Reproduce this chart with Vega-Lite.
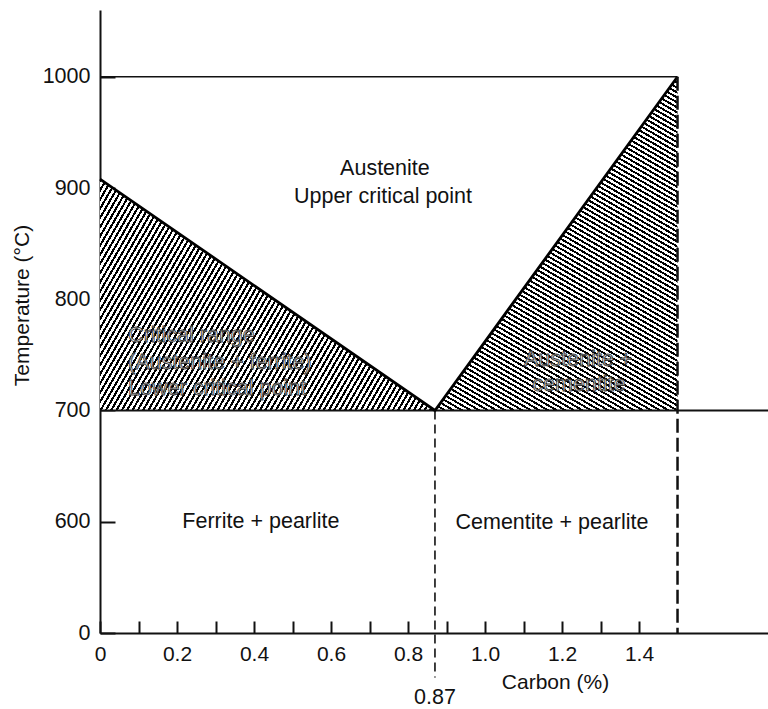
{
 "$schema": "https://vega.github.io/schema/vega-lite/v6.json",
 "width": 668,
 "height": 623,
 "autosize": {"type": "none"},
 "padding": {"left": 100, "top": 10, "right": 0, "bottom": 76},
 "background": "white",
 "config": {"view": {"stroke": null}, "font": "Liberation Sans"},
 "encoding": {
  "x": {"field": "c", "type": "quantitative",
   "scale": {"domain": [0, 1.735], "nice": false, "zero": false},
   "axis": {"values": [0,0.1,0.2,0.3,0.4,0.5,0.6,0.7,0.8,0.9,1.0,1.1,1.2,1.3,1.4],
    "labelExpr": "datum.value == 0 ? '0' : (round(datum.value*10) % 2 == 0 ? format(datum.value, '.1f') : '')",
    "grid": false, "tickSize": -12, "tickWidth": 2, "tickColor": "#111",
    "domainWidth": 2, "domainColor": "#111",
    "labelPadding": 22, "labelFontSize": 21, "labelColor": "#111", "labelFont": "Liberation Sans",
    "labelFlush": false, "labelOverlap": false, "labelBaseline": "top",
    "title": "Carbon (%)", "titleFont": "Liberation Sans", "titleFontSize": 21, "titleFontWeight": "normal", "titleColor": "#111",
    "titleX": 455, "titleY": 49, "titleBaseline": "middle", "titleAlign": "center"}},
  "y": {"field": "t", "type": "quantitative", "stack": null,
   "scale": {"domain": [500, 1060], "nice": false, "zero": false},
   "axis": {"values": [500,600,700,800,900,1000], "format": "d",
    "labelExpr": "datum.value == 500 ? '0' : datum.label",
    "grid": false, "tickSize": -15, "tickWidth": 2, "tickColor": "#111",
    "domainWidth": 2, "domainColor": "#111",
    "labelPadding": 25, "labelFontSize": 21.5, "labelColor": "#111", "labelFont": "Liberation Sans",
    "labelFlush": false, "labelOverlap": false,
    "title": "Temperature (°C)", "titleFont": "Liberation Sans", "titleFontSize": 21, "titleFontWeight": "normal", "titleColor": "#111",
    "titleX": -78, "titleY": 295, "titleBaseline": "middle", "titleAlign": "center", "titleAngle": -90}}
 },
 "layer": [
  {
   "data": {"values": [{"c": 0, "t": 908, "t2": 700}, {"c": 0.87, "t": 700, "t2": 700}]},
   "mark": {"type": "area", "stroke": null, "fill": {"gradient": "linear", "x1": 0, "y1": 0, "x2": 1.36817, "y2": 0.54572, "stops": [
{"offset":0,"color":"#000"},{"offset":0.0045,"color":"#000"},{"offset":0.0045,"color":"#fff"},{"offset":0.01,"color":"#fff"},
{"offset":0.01,"color":"#000"},{"offset":0.0145,"color":"#000"},{"offset":0.0145,"color":"#fff"},{"offset":0.02,"color":"#fff"},
{"offset":0.02,"color":"#000"},{"offset":0.0245,"color":"#000"},{"offset":0.0245,"color":"#fff"},{"offset":0.03,"color":"#fff"},
{"offset":0.03,"color":"#000"},{"offset":0.0345,"color":"#000"},{"offset":0.0345,"color":"#fff"},{"offset":0.04,"color":"#fff"},
{"offset":0.04,"color":"#000"},{"offset":0.0445,"color":"#000"},{"offset":0.0445,"color":"#fff"},{"offset":0.05,"color":"#fff"},
{"offset":0.05,"color":"#000"},{"offset":0.0545,"color":"#000"},{"offset":0.0545,"color":"#fff"},{"offset":0.06,"color":"#fff"},
{"offset":0.06,"color":"#000"},{"offset":0.0645,"color":"#000"},{"offset":0.0645,"color":"#fff"},{"offset":0.07,"color":"#fff"},
{"offset":0.07,"color":"#000"},{"offset":0.0745,"color":"#000"},{"offset":0.0745,"color":"#fff"},{"offset":0.08,"color":"#fff"},
{"offset":0.08,"color":"#000"},{"offset":0.0845,"color":"#000"},{"offset":0.0845,"color":"#fff"},{"offset":0.09,"color":"#fff"},
{"offset":0.09,"color":"#000"},{"offset":0.0945,"color":"#000"},{"offset":0.0945,"color":"#fff"},{"offset":0.10,"color":"#fff"},
{"offset":0.10,"color":"#000"},{"offset":0.1045,"color":"#000"},{"offset":0.1045,"color":"#fff"},{"offset":0.11,"color":"#fff"},
{"offset":0.11,"color":"#000"},{"offset":0.1145,"color":"#000"},{"offset":0.1145,"color":"#fff"},{"offset":0.12,"color":"#fff"},
{"offset":0.12,"color":"#000"},{"offset":0.1245,"color":"#000"},{"offset":0.1245,"color":"#fff"},{"offset":0.13,"color":"#fff"},
{"offset":0.13,"color":"#000"},{"offset":0.1345,"color":"#000"},{"offset":0.1345,"color":"#fff"},{"offset":0.14,"color":"#fff"},
{"offset":0.14,"color":"#000"},{"offset":0.1445,"color":"#000"},{"offset":0.1445,"color":"#fff"},{"offset":0.15,"color":"#fff"},
{"offset":0.15,"color":"#000"},{"offset":0.1545,"color":"#000"},{"offset":0.1545,"color":"#fff"},{"offset":0.16,"color":"#fff"},
{"offset":0.16,"color":"#000"},{"offset":0.1645,"color":"#000"},{"offset":0.1645,"color":"#fff"},{"offset":0.17,"color":"#fff"},
{"offset":0.17,"color":"#000"},{"offset":0.1745,"color":"#000"},{"offset":0.1745,"color":"#fff"},{"offset":0.18,"color":"#fff"},
{"offset":0.18,"color":"#000"},{"offset":0.1845,"color":"#000"},{"offset":0.1845,"color":"#fff"},{"offset":0.19,"color":"#fff"},
{"offset":0.19,"color":"#000"},{"offset":0.1945,"color":"#000"},{"offset":0.1945,"color":"#fff"},{"offset":0.20,"color":"#fff"},
{"offset":0.20,"color":"#000"},{"offset":0.2045,"color":"#000"},{"offset":0.2045,"color":"#fff"},{"offset":0.21,"color":"#fff"},
{"offset":0.21,"color":"#000"},{"offset":0.2145,"color":"#000"},{"offset":0.2145,"color":"#fff"},{"offset":0.22,"color":"#fff"},
{"offset":0.22,"color":"#000"},{"offset":0.2245,"color":"#000"},{"offset":0.2245,"color":"#fff"},{"offset":0.23,"color":"#fff"},
{"offset":0.23,"color":"#000"},{"offset":0.2345,"color":"#000"},{"offset":0.2345,"color":"#fff"},{"offset":0.24,"color":"#fff"},
{"offset":0.24,"color":"#000"},{"offset":0.2445,"color":"#000"},{"offset":0.2445,"color":"#fff"},{"offset":0.25,"color":"#fff"},
{"offset":0.25,"color":"#000"},{"offset":0.2545,"color":"#000"},{"offset":0.2545,"color":"#fff"},{"offset":0.26,"color":"#fff"},
{"offset":0.26,"color":"#000"},{"offset":0.2645,"color":"#000"},{"offset":0.2645,"color":"#fff"},{"offset":0.27,"color":"#fff"},
{"offset":0.27,"color":"#000"},{"offset":0.2745,"color":"#000"},{"offset":0.2745,"color":"#fff"},{"offset":0.28,"color":"#fff"},
{"offset":0.28,"color":"#000"},{"offset":0.2845,"color":"#000"},{"offset":0.2845,"color":"#fff"},{"offset":0.29,"color":"#fff"},
{"offset":0.29,"color":"#000"},{"offset":0.2945,"color":"#000"},{"offset":0.2945,"color":"#fff"},{"offset":0.30,"color":"#fff"},
{"offset":0.30,"color":"#000"},{"offset":0.3045,"color":"#000"},{"offset":0.3045,"color":"#fff"},{"offset":0.31,"color":"#fff"},
{"offset":0.31,"color":"#000"},{"offset":0.3145,"color":"#000"},{"offset":0.3145,"color":"#fff"},{"offset":0.32,"color":"#fff"},
{"offset":0.32,"color":"#000"},{"offset":0.3245,"color":"#000"},{"offset":0.3245,"color":"#fff"},{"offset":0.33,"color":"#fff"},
{"offset":0.33,"color":"#000"},{"offset":0.3345,"color":"#000"},{"offset":0.3345,"color":"#fff"},{"offset":0.34,"color":"#fff"},
{"offset":0.34,"color":"#000"},{"offset":0.3445,"color":"#000"},{"offset":0.3445,"color":"#fff"},{"offset":0.35,"color":"#fff"},
{"offset":0.35,"color":"#000"},{"offset":0.3545,"color":"#000"},{"offset":0.3545,"color":"#fff"},{"offset":0.36,"color":"#fff"},
{"offset":0.36,"color":"#000"},{"offset":0.3645,"color":"#000"},{"offset":0.3645,"color":"#fff"},{"offset":0.37,"color":"#fff"},
{"offset":0.37,"color":"#000"},{"offset":0.3745,"color":"#000"},{"offset":0.3745,"color":"#fff"},{"offset":0.38,"color":"#fff"},
{"offset":0.38,"color":"#000"},{"offset":0.3845,"color":"#000"},{"offset":0.3845,"color":"#fff"},{"offset":0.39,"color":"#fff"},
{"offset":0.39,"color":"#000"},{"offset":0.3945,"color":"#000"},{"offset":0.3945,"color":"#fff"},{"offset":0.40,"color":"#fff"},
{"offset":0.40,"color":"#000"},{"offset":0.4045,"color":"#000"},{"offset":0.4045,"color":"#fff"},{"offset":0.41,"color":"#fff"},
{"offset":0.41,"color":"#000"},{"offset":0.4145,"color":"#000"},{"offset":0.4145,"color":"#fff"},{"offset":0.42,"color":"#fff"},
{"offset":0.42,"color":"#000"},{"offset":0.4245,"color":"#000"},{"offset":0.4245,"color":"#fff"},{"offset":0.43,"color":"#fff"},
{"offset":0.43,"color":"#000"},{"offset":0.4345,"color":"#000"},{"offset":0.4345,"color":"#fff"},{"offset":0.44,"color":"#fff"},
{"offset":0.44,"color":"#000"},{"offset":0.4445,"color":"#000"},{"offset":0.4445,"color":"#fff"},{"offset":0.45,"color":"#fff"},
{"offset":0.45,"color":"#000"},{"offset":0.4545,"color":"#000"},{"offset":0.4545,"color":"#fff"},{"offset":0.46,"color":"#fff"},
{"offset":0.46,"color":"#000"},{"offset":0.4645,"color":"#000"},{"offset":0.4645,"color":"#fff"},{"offset":0.47,"color":"#fff"},
{"offset":0.47,"color":"#000"},{"offset":0.4745,"color":"#000"},{"offset":0.4745,"color":"#fff"},{"offset":0.48,"color":"#fff"},
{"offset":0.48,"color":"#000"},{"offset":0.4845,"color":"#000"},{"offset":0.4845,"color":"#fff"},{"offset":0.49,"color":"#fff"},
{"offset":0.49,"color":"#000"},{"offset":0.4945,"color":"#000"},{"offset":0.4945,"color":"#fff"},{"offset":0.50,"color":"#fff"},
{"offset":0.50,"color":"#000"},{"offset":0.5045,"color":"#000"},{"offset":0.5045,"color":"#fff"},{"offset":0.51,"color":"#fff"},
{"offset":0.51,"color":"#000"},{"offset":0.5145,"color":"#000"},{"offset":0.5145,"color":"#fff"},{"offset":0.52,"color":"#fff"},
{"offset":0.52,"color":"#000"},{"offset":0.5245,"color":"#000"},{"offset":0.5245,"color":"#fff"},{"offset":0.53,"color":"#fff"},
{"offset":0.53,"color":"#000"},{"offset":0.5345,"color":"#000"},{"offset":0.5345,"color":"#fff"},{"offset":0.54,"color":"#fff"},
{"offset":0.54,"color":"#000"},{"offset":0.5445,"color":"#000"},{"offset":0.5445,"color":"#fff"},{"offset":0.55,"color":"#fff"},
{"offset":0.55,"color":"#000"},{"offset":0.5545,"color":"#000"},{"offset":0.5545,"color":"#fff"},{"offset":0.56,"color":"#fff"},
{"offset":0.56,"color":"#000"},{"offset":0.5645,"color":"#000"},{"offset":0.5645,"color":"#fff"},{"offset":0.57,"color":"#fff"},
{"offset":0.57,"color":"#000"},{"offset":0.5745,"color":"#000"},{"offset":0.5745,"color":"#fff"},{"offset":0.58,"color":"#fff"},
{"offset":0.58,"color":"#000"},{"offset":0.5845,"color":"#000"},{"offset":0.5845,"color":"#fff"},{"offset":0.59,"color":"#fff"},
{"offset":0.59,"color":"#000"},{"offset":0.5945,"color":"#000"},{"offset":0.5945,"color":"#fff"},{"offset":0.60,"color":"#fff"},
{"offset":0.60,"color":"#000"},{"offset":0.6045,"color":"#000"},{"offset":0.6045,"color":"#fff"},{"offset":0.61,"color":"#fff"},
{"offset":0.61,"color":"#000"},{"offset":0.6145,"color":"#000"},{"offset":0.6145,"color":"#fff"},{"offset":0.62,"color":"#fff"},
{"offset":0.62,"color":"#000"},{"offset":0.6245,"color":"#000"},{"offset":0.6245,"color":"#fff"},{"offset":0.63,"color":"#fff"},
{"offset":0.63,"color":"#000"},{"offset":0.6345,"color":"#000"},{"offset":0.6345,"color":"#fff"},{"offset":0.64,"color":"#fff"},
{"offset":0.64,"color":"#000"},{"offset":0.6445,"color":"#000"},{"offset":0.6445,"color":"#fff"},{"offset":0.65,"color":"#fff"},
{"offset":0.65,"color":"#000"},{"offset":0.6545,"color":"#000"},{"offset":0.6545,"color":"#fff"},{"offset":0.66,"color":"#fff"},
{"offset":0.66,"color":"#000"},{"offset":0.6645,"color":"#000"},{"offset":0.6645,"color":"#fff"},{"offset":0.67,"color":"#fff"},
{"offset":0.67,"color":"#000"},{"offset":0.6745,"color":"#000"},{"offset":0.6745,"color":"#fff"},{"offset":0.68,"color":"#fff"},
{"offset":0.68,"color":"#000"},{"offset":0.6845,"color":"#000"},{"offset":0.6845,"color":"#fff"},{"offset":0.69,"color":"#fff"},
{"offset":0.69,"color":"#000"},{"offset":0.6945,"color":"#000"},{"offset":0.6945,"color":"#fff"},{"offset":0.70,"color":"#fff"},
{"offset":0.70,"color":"#000"},{"offset":0.7045,"color":"#000"},{"offset":0.7045,"color":"#fff"},{"offset":0.71,"color":"#fff"},
{"offset":0.71,"color":"#000"},{"offset":0.7145,"color":"#000"},{"offset":0.7145,"color":"#fff"},{"offset":0.72,"color":"#fff"},
{"offset":0.72,"color":"#000"},{"offset":0.7245,"color":"#000"},{"offset":0.7245,"color":"#fff"},{"offset":0.73,"color":"#fff"},
{"offset":0.73,"color":"#000"},{"offset":0.7345,"color":"#000"},{"offset":0.7345,"color":"#fff"},{"offset":0.74,"color":"#fff"},
{"offset":0.74,"color":"#000"},{"offset":0.7445,"color":"#000"},{"offset":0.7445,"color":"#fff"},{"offset":0.75,"color":"#fff"},
{"offset":0.75,"color":"#000"},{"offset":0.7545,"color":"#000"},{"offset":0.7545,"color":"#fff"},{"offset":0.76,"color":"#fff"},
{"offset":0.76,"color":"#000"},{"offset":0.7645,"color":"#000"},{"offset":0.7645,"color":"#fff"},{"offset":0.77,"color":"#fff"},
{"offset":0.77,"color":"#000"},{"offset":0.7745,"color":"#000"},{"offset":0.7745,"color":"#fff"},{"offset":0.78,"color":"#fff"},
{"offset":0.78,"color":"#000"},{"offset":0.7845,"color":"#000"},{"offset":0.7845,"color":"#fff"},{"offset":0.79,"color":"#fff"},
{"offset":0.79,"color":"#000"},{"offset":0.7945,"color":"#000"},{"offset":0.7945,"color":"#fff"},{"offset":0.80,"color":"#fff"},
{"offset":0.80,"color":"#000"},{"offset":0.8045,"color":"#000"},{"offset":0.8045,"color":"#fff"},{"offset":0.81,"color":"#fff"},
{"offset":0.81,"color":"#000"},{"offset":0.8145,"color":"#000"},{"offset":0.8145,"color":"#fff"},{"offset":0.82,"color":"#fff"},
{"offset":0.82,"color":"#000"},{"offset":0.8245,"color":"#000"},{"offset":0.8245,"color":"#fff"},{"offset":0.83,"color":"#fff"},
{"offset":0.83,"color":"#000"},{"offset":0.8345,"color":"#000"},{"offset":0.8345,"color":"#fff"},{"offset":0.84,"color":"#fff"},
{"offset":0.84,"color":"#000"},{"offset":0.8445,"color":"#000"},{"offset":0.8445,"color":"#fff"},{"offset":0.85,"color":"#fff"},
{"offset":0.85,"color":"#000"},{"offset":0.8545,"color":"#000"},{"offset":0.8545,"color":"#fff"},{"offset":0.86,"color":"#fff"},
{"offset":0.86,"color":"#000"},{"offset":0.8645,"color":"#000"},{"offset":0.8645,"color":"#fff"},{"offset":0.87,"color":"#fff"},
{"offset":0.87,"color":"#000"},{"offset":0.8745,"color":"#000"},{"offset":0.8745,"color":"#fff"},{"offset":0.88,"color":"#fff"},
{"offset":0.88,"color":"#000"},{"offset":0.8845,"color":"#000"},{"offset":0.8845,"color":"#fff"},{"offset":1,"color":"#fff"}
   ]}},
   "encoding": {"y2": {"field": "t2"}}
  },
  {
   "data": {"values": [{"c": 0.87, "t": 700, "t2": 700}, {"c": 1.5, "t": 1000, "t2": 700}]},
   "mark": {"type": "area", "stroke": null, "fill": {"gradient": "linear", "x1": 1, "y1": 0, "x2": 0.46919, "y2": 1.265, "stops": [
{"offset":0,"color":"#000"},{"offset":0.0045,"color":"#000"},{"offset":0.0045,"color":"#fff"},{"offset":0.01,"color":"#fff"},
{"offset":0.01,"color":"#000"},{"offset":0.0145,"color":"#000"},{"offset":0.0145,"color":"#fff"},{"offset":0.02,"color":"#fff"},
{"offset":0.02,"color":"#000"},{"offset":0.0245,"color":"#000"},{"offset":0.0245,"color":"#fff"},{"offset":0.03,"color":"#fff"},
{"offset":0.03,"color":"#000"},{"offset":0.0345,"color":"#000"},{"offset":0.0345,"color":"#fff"},{"offset":0.04,"color":"#fff"},
{"offset":0.04,"color":"#000"},{"offset":0.0445,"color":"#000"},{"offset":0.0445,"color":"#fff"},{"offset":0.05,"color":"#fff"},
{"offset":0.05,"color":"#000"},{"offset":0.0545,"color":"#000"},{"offset":0.0545,"color":"#fff"},{"offset":0.06,"color":"#fff"},
{"offset":0.06,"color":"#000"},{"offset":0.0645,"color":"#000"},{"offset":0.0645,"color":"#fff"},{"offset":0.07,"color":"#fff"},
{"offset":0.07,"color":"#000"},{"offset":0.0745,"color":"#000"},{"offset":0.0745,"color":"#fff"},{"offset":0.08,"color":"#fff"},
{"offset":0.08,"color":"#000"},{"offset":0.0845,"color":"#000"},{"offset":0.0845,"color":"#fff"},{"offset":0.09,"color":"#fff"},
{"offset":0.09,"color":"#000"},{"offset":0.0945,"color":"#000"},{"offset":0.0945,"color":"#fff"},{"offset":0.10,"color":"#fff"},
{"offset":0.10,"color":"#000"},{"offset":0.1045,"color":"#000"},{"offset":0.1045,"color":"#fff"},{"offset":0.11,"color":"#fff"},
{"offset":0.11,"color":"#000"},{"offset":0.1145,"color":"#000"},{"offset":0.1145,"color":"#fff"},{"offset":0.12,"color":"#fff"},
{"offset":0.12,"color":"#000"},{"offset":0.1245,"color":"#000"},{"offset":0.1245,"color":"#fff"},{"offset":0.13,"color":"#fff"},
{"offset":0.13,"color":"#000"},{"offset":0.1345,"color":"#000"},{"offset":0.1345,"color":"#fff"},{"offset":0.14,"color":"#fff"},
{"offset":0.14,"color":"#000"},{"offset":0.1445,"color":"#000"},{"offset":0.1445,"color":"#fff"},{"offset":0.15,"color":"#fff"},
{"offset":0.15,"color":"#000"},{"offset":0.1545,"color":"#000"},{"offset":0.1545,"color":"#fff"},{"offset":0.16,"color":"#fff"},
{"offset":0.16,"color":"#000"},{"offset":0.1645,"color":"#000"},{"offset":0.1645,"color":"#fff"},{"offset":0.17,"color":"#fff"},
{"offset":0.17,"color":"#000"},{"offset":0.1745,"color":"#000"},{"offset":0.1745,"color":"#fff"},{"offset":0.18,"color":"#fff"},
{"offset":0.18,"color":"#000"},{"offset":0.1845,"color":"#000"},{"offset":0.1845,"color":"#fff"},{"offset":0.19,"color":"#fff"},
{"offset":0.19,"color":"#000"},{"offset":0.1945,"color":"#000"},{"offset":0.1945,"color":"#fff"},{"offset":0.20,"color":"#fff"},
{"offset":0.20,"color":"#000"},{"offset":0.2045,"color":"#000"},{"offset":0.2045,"color":"#fff"},{"offset":0.21,"color":"#fff"},
{"offset":0.21,"color":"#000"},{"offset":0.2145,"color":"#000"},{"offset":0.2145,"color":"#fff"},{"offset":0.22,"color":"#fff"},
{"offset":0.22,"color":"#000"},{"offset":0.2245,"color":"#000"},{"offset":0.2245,"color":"#fff"},{"offset":0.23,"color":"#fff"},
{"offset":0.23,"color":"#000"},{"offset":0.2345,"color":"#000"},{"offset":0.2345,"color":"#fff"},{"offset":0.24,"color":"#fff"},
{"offset":0.24,"color":"#000"},{"offset":0.2445,"color":"#000"},{"offset":0.2445,"color":"#fff"},{"offset":0.25,"color":"#fff"},
{"offset":0.25,"color":"#000"},{"offset":0.2545,"color":"#000"},{"offset":0.2545,"color":"#fff"},{"offset":0.26,"color":"#fff"},
{"offset":0.26,"color":"#000"},{"offset":0.2645,"color":"#000"},{"offset":0.2645,"color":"#fff"},{"offset":0.27,"color":"#fff"},
{"offset":0.27,"color":"#000"},{"offset":0.2745,"color":"#000"},{"offset":0.2745,"color":"#fff"},{"offset":0.28,"color":"#fff"},
{"offset":0.28,"color":"#000"},{"offset":0.2845,"color":"#000"},{"offset":0.2845,"color":"#fff"},{"offset":0.29,"color":"#fff"},
{"offset":0.29,"color":"#000"},{"offset":0.2945,"color":"#000"},{"offset":0.2945,"color":"#fff"},{"offset":0.30,"color":"#fff"},
{"offset":0.30,"color":"#000"},{"offset":0.3045,"color":"#000"},{"offset":0.3045,"color":"#fff"},{"offset":0.31,"color":"#fff"},
{"offset":0.31,"color":"#000"},{"offset":0.3145,"color":"#000"},{"offset":0.3145,"color":"#fff"},{"offset":0.32,"color":"#fff"},
{"offset":0.32,"color":"#000"},{"offset":0.3245,"color":"#000"},{"offset":0.3245,"color":"#fff"},{"offset":0.33,"color":"#fff"},
{"offset":0.33,"color":"#000"},{"offset":0.3345,"color":"#000"},{"offset":0.3345,"color":"#fff"},{"offset":0.34,"color":"#fff"},
{"offset":0.34,"color":"#000"},{"offset":0.3445,"color":"#000"},{"offset":0.3445,"color":"#fff"},{"offset":0.35,"color":"#fff"},
{"offset":0.35,"color":"#000"},{"offset":0.3545,"color":"#000"},{"offset":0.3545,"color":"#fff"},{"offset":0.36,"color":"#fff"},
{"offset":0.36,"color":"#000"},{"offset":0.3645,"color":"#000"},{"offset":0.3645,"color":"#fff"},{"offset":0.37,"color":"#fff"},
{"offset":0.37,"color":"#000"},{"offset":0.3745,"color":"#000"},{"offset":0.3745,"color":"#fff"},{"offset":0.38,"color":"#fff"},
{"offset":0.38,"color":"#000"},{"offset":0.3845,"color":"#000"},{"offset":0.3845,"color":"#fff"},{"offset":0.39,"color":"#fff"},
{"offset":0.39,"color":"#000"},{"offset":0.3945,"color":"#000"},{"offset":0.3945,"color":"#fff"},{"offset":0.40,"color":"#fff"},
{"offset":0.40,"color":"#000"},{"offset":0.4045,"color":"#000"},{"offset":0.4045,"color":"#fff"},{"offset":0.41,"color":"#fff"},
{"offset":0.41,"color":"#000"},{"offset":0.4145,"color":"#000"},{"offset":0.4145,"color":"#fff"},{"offset":0.42,"color":"#fff"},
{"offset":0.42,"color":"#000"},{"offset":0.4245,"color":"#000"},{"offset":0.4245,"color":"#fff"},{"offset":0.43,"color":"#fff"},
{"offset":0.43,"color":"#000"},{"offset":0.4345,"color":"#000"},{"offset":0.4345,"color":"#fff"},{"offset":0.44,"color":"#fff"},
{"offset":0.44,"color":"#000"},{"offset":0.4445,"color":"#000"},{"offset":0.4445,"color":"#fff"},{"offset":0.45,"color":"#fff"},
{"offset":0.45,"color":"#000"},{"offset":0.4545,"color":"#000"},{"offset":0.4545,"color":"#fff"},{"offset":0.46,"color":"#fff"},
{"offset":0.46,"color":"#000"},{"offset":0.4645,"color":"#000"},{"offset":0.4645,"color":"#fff"},{"offset":0.47,"color":"#fff"},
{"offset":0.47,"color":"#000"},{"offset":0.4745,"color":"#000"},{"offset":0.4745,"color":"#fff"},{"offset":0.48,"color":"#fff"},
{"offset":0.48,"color":"#000"},{"offset":0.4845,"color":"#000"},{"offset":0.4845,"color":"#fff"},{"offset":0.49,"color":"#fff"},
{"offset":0.49,"color":"#000"},{"offset":0.4945,"color":"#000"},{"offset":0.4945,"color":"#fff"},{"offset":0.50,"color":"#fff"},
{"offset":0.50,"color":"#000"},{"offset":0.5045,"color":"#000"},{"offset":0.5045,"color":"#fff"},{"offset":0.51,"color":"#fff"},
{"offset":0.51,"color":"#000"},{"offset":0.5145,"color":"#000"},{"offset":0.5145,"color":"#fff"},{"offset":0.52,"color":"#fff"},
{"offset":0.52,"color":"#000"},{"offset":0.5245,"color":"#000"},{"offset":0.5245,"color":"#fff"},{"offset":0.53,"color":"#fff"},
{"offset":0.53,"color":"#000"},{"offset":0.5345,"color":"#000"},{"offset":0.5345,"color":"#fff"},{"offset":0.54,"color":"#fff"},
{"offset":0.54,"color":"#000"},{"offset":0.5445,"color":"#000"},{"offset":0.5445,"color":"#fff"},{"offset":0.55,"color":"#fff"},
{"offset":0.55,"color":"#000"},{"offset":0.5545,"color":"#000"},{"offset":0.5545,"color":"#fff"},{"offset":0.56,"color":"#fff"},
{"offset":0.56,"color":"#000"},{"offset":0.5645,"color":"#000"},{"offset":0.5645,"color":"#fff"},{"offset":0.57,"color":"#fff"},
{"offset":0.57,"color":"#000"},{"offset":0.5745,"color":"#000"},{"offset":0.5745,"color":"#fff"},{"offset":0.58,"color":"#fff"},
{"offset":0.58,"color":"#000"},{"offset":0.5845,"color":"#000"},{"offset":0.5845,"color":"#fff"},{"offset":0.59,"color":"#fff"},
{"offset":0.59,"color":"#000"},{"offset":0.5945,"color":"#000"},{"offset":0.5945,"color":"#fff"},{"offset":0.60,"color":"#fff"},
{"offset":0.60,"color":"#000"},{"offset":0.6045,"color":"#000"},{"offset":0.6045,"color":"#fff"},{"offset":0.61,"color":"#fff"},
{"offset":0.61,"color":"#000"},{"offset":0.6145,"color":"#000"},{"offset":0.6145,"color":"#fff"},{"offset":0.62,"color":"#fff"},
{"offset":0.62,"color":"#000"},{"offset":0.6245,"color":"#000"},{"offset":0.6245,"color":"#fff"},{"offset":0.63,"color":"#fff"},
{"offset":0.63,"color":"#000"},{"offset":0.6345,"color":"#000"},{"offset":0.6345,"color":"#fff"},{"offset":0.64,"color":"#fff"},
{"offset":0.64,"color":"#000"},{"offset":0.6445,"color":"#000"},{"offset":0.6445,"color":"#fff"},{"offset":0.65,"color":"#fff"},
{"offset":0.65,"color":"#000"},{"offset":0.6545,"color":"#000"},{"offset":0.6545,"color":"#fff"},{"offset":0.66,"color":"#fff"},
{"offset":0.66,"color":"#000"},{"offset":0.6645,"color":"#000"},{"offset":0.6645,"color":"#fff"},{"offset":0.67,"color":"#fff"},
{"offset":0.67,"color":"#000"},{"offset":0.6745,"color":"#000"},{"offset":0.6745,"color":"#fff"},{"offset":0.68,"color":"#fff"},
{"offset":0.68,"color":"#000"},{"offset":0.6845,"color":"#000"},{"offset":0.6845,"color":"#fff"},{"offset":0.69,"color":"#fff"},
{"offset":0.69,"color":"#000"},{"offset":0.6945,"color":"#000"},{"offset":0.6945,"color":"#fff"},{"offset":0.70,"color":"#fff"},
{"offset":0.70,"color":"#000"},{"offset":0.7045,"color":"#000"},{"offset":0.7045,"color":"#fff"},{"offset":0.71,"color":"#fff"},
{"offset":0.71,"color":"#000"},{"offset":0.7145,"color":"#000"},{"offset":0.7145,"color":"#fff"},{"offset":0.72,"color":"#fff"},
{"offset":0.72,"color":"#000"},{"offset":0.7245,"color":"#000"},{"offset":0.7245,"color":"#fff"},{"offset":0.73,"color":"#fff"},
{"offset":0.73,"color":"#000"},{"offset":0.7345,"color":"#000"},{"offset":0.7345,"color":"#fff"},{"offset":0.74,"color":"#fff"},
{"offset":0.74,"color":"#000"},{"offset":0.7445,"color":"#000"},{"offset":0.7445,"color":"#fff"},{"offset":0.75,"color":"#fff"},
{"offset":0.75,"color":"#000"},{"offset":0.7545,"color":"#000"},{"offset":0.7545,"color":"#fff"},{"offset":0.76,"color":"#fff"},
{"offset":0.76,"color":"#000"},{"offset":0.7645,"color":"#000"},{"offset":0.7645,"color":"#fff"},{"offset":0.77,"color":"#fff"},
{"offset":0.77,"color":"#000"},{"offset":0.7745,"color":"#000"},{"offset":0.7745,"color":"#fff"},{"offset":0.78,"color":"#fff"},
{"offset":0.78,"color":"#000"},{"offset":0.7845,"color":"#000"},{"offset":0.7845,"color":"#fff"},{"offset":0.79,"color":"#fff"},
{"offset":0.79,"color":"#000"},{"offset":0.7945,"color":"#000"},{"offset":0.7945,"color":"#fff"},{"offset":0.80,"color":"#fff"},
{"offset":0.80,"color":"#000"},{"offset":0.8045,"color":"#000"},{"offset":0.8045,"color":"#fff"},{"offset":0.81,"color":"#fff"},
{"offset":0.81,"color":"#000"},{"offset":0.8145,"color":"#000"},{"offset":0.8145,"color":"#fff"},{"offset":0.82,"color":"#fff"},
{"offset":0.82,"color":"#000"},{"offset":0.8245,"color":"#000"},{"offset":0.8245,"color":"#fff"},{"offset":0.83,"color":"#fff"},
{"offset":0.83,"color":"#000"},{"offset":0.8345,"color":"#000"},{"offset":0.8345,"color":"#fff"},{"offset":0.84,"color":"#fff"},
{"offset":0.84,"color":"#000"},{"offset":0.8445,"color":"#000"},{"offset":0.8445,"color":"#fff"},{"offset":0.85,"color":"#fff"},
{"offset":0.85,"color":"#000"},{"offset":0.8545,"color":"#000"},{"offset":0.8545,"color":"#fff"},{"offset":0.86,"color":"#fff"},
{"offset":0.86,"color":"#000"},{"offset":0.8645,"color":"#000"},{"offset":0.8645,"color":"#fff"},{"offset":0.87,"color":"#fff"},
{"offset":0.87,"color":"#000"},{"offset":0.8745,"color":"#000"},{"offset":0.8745,"color":"#fff"},{"offset":0.88,"color":"#fff"},
{"offset":0.88,"color":"#000"},{"offset":0.8845,"color":"#000"},{"offset":0.8845,"color":"#fff"},{"offset":0.89,"color":"#fff"},
{"offset":0.89,"color":"#000"},{"offset":0.8945,"color":"#000"},{"offset":0.8945,"color":"#fff"},{"offset":0.90,"color":"#fff"},
{"offset":0.90,"color":"#000"},{"offset":0.9045,"color":"#000"},{"offset":0.9045,"color":"#fff"},{"offset":0.91,"color":"#fff"},
{"offset":0.91,"color":"#000"},{"offset":0.9145,"color":"#000"},{"offset":0.9145,"color":"#fff"},{"offset":0.92,"color":"#fff"},
{"offset":0.92,"color":"#000"},{"offset":0.9245,"color":"#000"},{"offset":0.9245,"color":"#fff"},{"offset":0.93,"color":"#fff"},
{"offset":0.93,"color":"#000"},{"offset":0.9345,"color":"#000"},{"offset":0.9345,"color":"#fff"},{"offset":0.94,"color":"#fff"},
{"offset":0.94,"color":"#000"},{"offset":0.9445,"color":"#000"},{"offset":0.9445,"color":"#fff"},{"offset":0.95,"color":"#fff"},
{"offset":0.95,"color":"#000"},{"offset":0.9545,"color":"#000"},{"offset":0.9545,"color":"#fff"},{"offset":0.96,"color":"#fff"},
{"offset":0.96,"color":"#000"},{"offset":0.9645,"color":"#000"},{"offset":0.9645,"color":"#fff"},{"offset":1,"color":"#fff"}
   ]}},
   "encoding": {"y2": {"field": "t2"}}
  },
  {
   "data": {"values": [{"c": 0, "c2": 1.5, "t": 1000}]},
   "mark": {"type": "rule", "color": "#111", "strokeWidth": 1.5},
   "encoding": {"x2": {"field": "c2"}}
  },
  {
   "data": {"values": [{"c": 0, "c2": 1.735, "t": 700}]},
   "mark": {"type": "rule", "color": "#111", "strokeWidth": 2},
   "encoding": {"x2": {"field": "c2"}}
  },
  {
   "data": {"values": [{"c": 0, "t": 908}, {"c": 0.87, "t": 700}, {"c": 1.5, "t": 1000}]},
   "mark": {"type": "line", "color": "#000", "strokeWidth": 2.8},
   "encoding": {}
  },
  {
   "data": {"values": [{"c": 0.87, "t": 700, "t2": 460}]},
   "mark": {"type": "rule", "color": "#111", "strokeWidth": 1.6, "strokeDash": [9, 5]},
   "encoding": {"y2": {"field": "t2"}}
  },
  {
   "data": {"values": [{"c": 1.5, "t": 1000, "t2": 500}]},
   "mark": {"type": "rule", "color": "#111", "strokeWidth": 2.5, "strokeDash": [14, 5]},
   "encoding": {"y2": {"field": "t2"}}
  },
  {
   "data": {"values": [
    {"c": 0.74, "t": 917.5, "label": "Austenite"},
    {"c": 0.735, "t": 891.5, "label": "Upper critical point"},
    {"c": 0.418, "t": 600, "label": "Ferrite + pearlite"},
    {"c": 1.174, "t": 599, "label": "Cementite + pearlite"},
    {"c": 0.87, "t": 441.6, "label": "0.87"}
   ]},
   "mark": {"type": "text", "fontSize": 21.5, "font": "Liberation Sans", "color": "#111", "align": "center", "baseline": "middle"},
   "encoding": {"text": {"field": "label"}}
  },
  {
   "data": {"values": [
    {"c": 0.073, "t": 767, "label": "Critical range"},
    {"c": 0.073, "t": 742.7, "label": "(Austenite + ferrite)"},
    {"c": 0.073, "t": 719.3, "label": "Lower critical point"}
   ]},
   "mark": {"type": "text", "fontSize": 21.5, "font": "Liberation Sans", "fill": "#fff", "fillOpacity": 0.7, "stroke": "#333", "strokeWidth": 0.9, "align": "left", "baseline": "middle"},
   "encoding": {"text": {"field": "label"}}
  },
  {
   "data": {"values": [
    {"c": 1.2416, "t": 745.4, "label": "Austenite +"},
    {"c": 1.244, "t": 722.9, "label": "cementite"}
   ]},
   "mark": {"type": "text", "fontSize": 21.5, "font": "Liberation Sans", "fill": "#fff", "fillOpacity": 0.7, "stroke": "#333", "strokeWidth": 0.9, "align": "center", "baseline": "middle"},
   "encoding": {"text": {"field": "label"}}
  }
]
}
